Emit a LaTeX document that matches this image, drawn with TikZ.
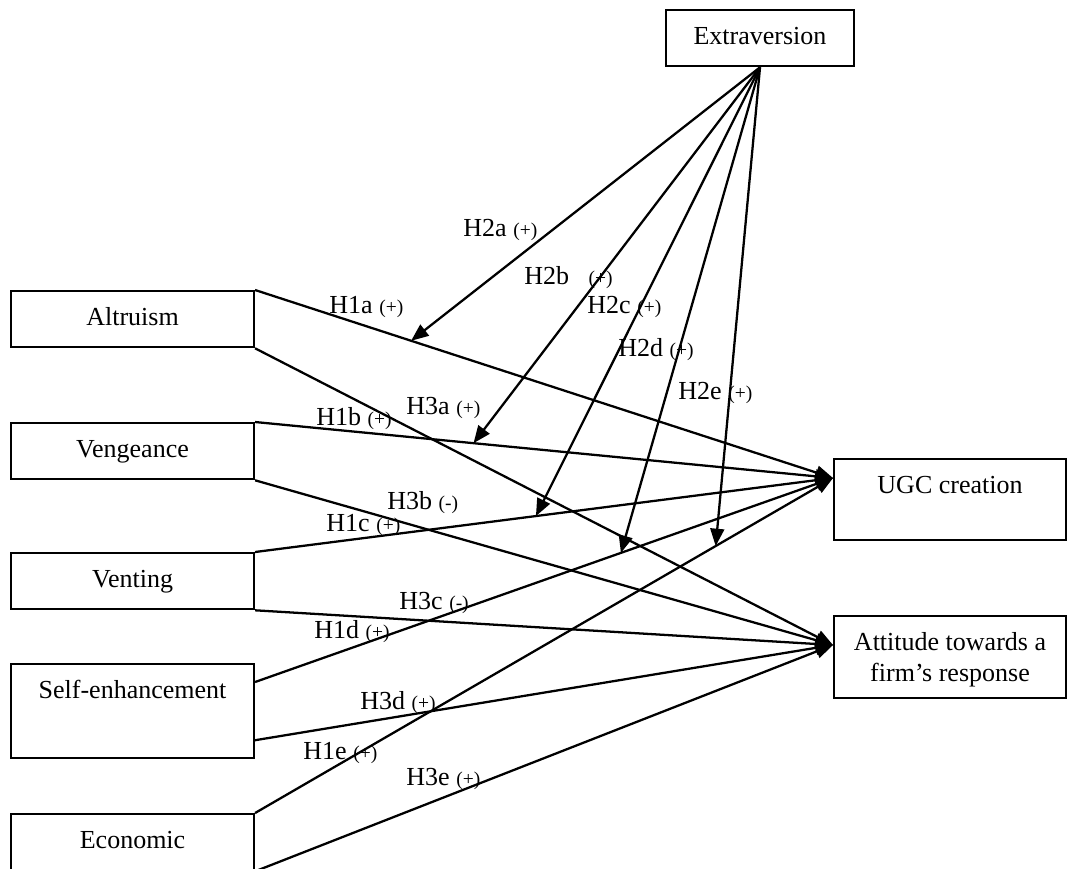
\documentclass[tikz,border=0pt]{standalone}
\usepackage{fontspec}
\setmainfont{Liberation Serif}
\usepackage{tikz}
\usetikzlibrary{arrows.meta,calc}

\newcommand{\hsign}[1]{{\fontsize{9}{10}\selectfont(#1)}}

\begin{document}
\begin{tikzpicture}[
    x=0.4615pt, y=-0.4615pt,
    font=\fontsize{12}{14}\selectfont,
    box/.style={draw, line width=0.9pt, anchor=north west, inner xsep=0pt,
      inner ysep=7pt, text height=9pt, text depth=3pt, align=center},
    left/.style={box, minimum width=112.2pt},
    right/.style={box, minimum width=107.1pt},
    path/.style={line width=1.05pt, -{Triangle[length=8pt, width=6.4pt]}},
    hyp/.style={anchor=west, inner sep=0pt},
  ]
  \useasboundingbox (0,0) rectangle (1068,868);

  \node[box, minimum width=86.8pt] (ext) at (665,9) {Extraversion};

  \node[left] (alt) at (10,290) {Altruism};
  \node[left] (veng) at (10,422) {Vengeance};
  \node[left] (vent) at (10,552) {Venting};
  \node[left, text depth=20.5pt] (self) at (10,663) {Self-enhancement};
  \node[left] (econ) at (10,813) {Economic};

  \node[right, text depth=14.5pt] (ugc) at (833,458) {UGC creation};
  \node[right, text height=23pt, text depth=1pt] (att) at (833,615)
    {Attitude towards a\\firm’s response};

  \coordinate (ugcin) at ($(ugc.north west)+(0,20)$);
  \coordinate (attin) at ($(att.north west)+(0,30)$);
  \coordinate (selftop) at ($(self.north east)+(0,19)$);
  \coordinate (selfbot) at ($(self.south east)+(0,-19)$);

  % direct effects
  \draw[path] (alt.north east) -- coordinate[pos=0.27] (m1) (ugcin);
  \draw[path] (veng.north east) -- coordinate[pos=0.378] (m2) (ugcin);
  \draw[path] (vent.north east) -- coordinate[pos=0.486] (m3) (ugcin);
  \draw[path] (selftop) -- coordinate[pos=0.633] (m4) (ugcin);
  \draw[path] (econ.north east) -- coordinate[pos=0.797] (m5) (ugcin);

  \draw[path] (alt.south east) -- (attin);
  \draw[path] (veng.south east) -- (attin);
  \draw[path] (vent.south east) -- (attin);
  \draw[path] (selfbot) -- (attin);
  \draw[path] (econ.south east) -- (attin);

  % moderation
  \foreach \m in {m1,m2,m3,m4,m5}
    \draw[path] (ext.south) -- (\m);

  \node[hyp] (h2a) at (463,230) {H2a \hsign{+}};
  \node[hyp] (h2b) at (524,278) {H2b\hspace{9pt}\hsign{+}};
  \node[hyp] (h2c) at (587,307) {H2c \hsign{+}};
  \node[hyp] (h2d) at (618,350) {H2d \hsign{+}};
  \node[hyp] (h2e) at (678,393) {H2e \hsign{+}};

  \node[hyp] (h1a) at (329,307) {H1a \hsign{+}};
  \node[hyp] (h3a) at (406,408) {H3a \hsign{+}};
  \node[hyp] (h1b) at (316,419) {H1b \hsign{+}};
  \node[hyp] (h3b) at (387,503) {H3b \hsign{-}};
  \node[hyp] (h1c) at (326,525) {H1c \hsign{+}};
  \node[hyp] (h3c) at (399,603) {H3c \hsign{-}};
  \node[hyp] (h1d) at (314,632) {H1d \hsign{+}};
  \node[hyp] (h3d) at (360,703) {H3d \hsign{+}};
  \node[hyp] (h1e) at (303,753) {H1e \hsign{+}};
  \node[hyp] (h3e) at (406,779) {H3e \hsign{+}};
\end{tikzpicture}
\end{document}
